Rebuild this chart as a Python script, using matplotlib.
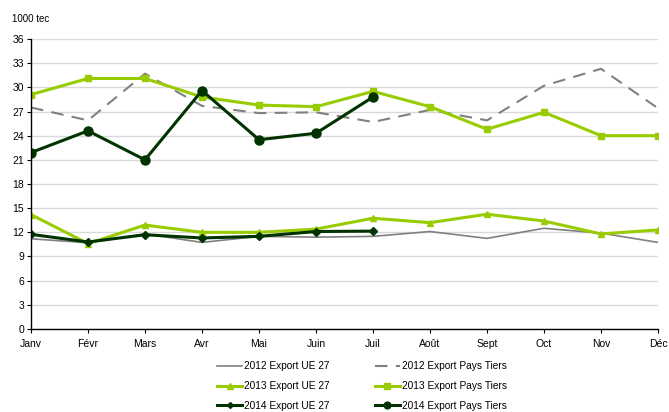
import matplotlib
matplotlib.use("Agg")
import matplotlib.pyplot as plt

plt.rcParams['font.family'] = ['Liberation Sans', 'DejaVu Sans']

months = ["Janv", "Févr", "Mars", "Avr", "Mai", "Juin", "Juil", "Août", "Sept", "Oct", "Nov", "Déc"]
yticks = [0, 3, 6, 9, 12, 15, 18, 21, 24, 27, 30, 33, 36]

ue_2012 = [11.2, 10.7, 11.8, 10.75, 11.5, 11.4, 11.5, 12.1, 11.25, 12.5, 11.9, 10.75]
pt_2012 = [27.5, 25.9, 31.7, 27.7, 26.8, 26.9, 25.7, 27.2, 25.9, 30.2, 32.3, 27.4]
ue_2013 = [14.2, 10.6, 12.9, 12.0, 12.0, 12.4, 13.75, 13.2, 14.25, 13.4, 11.8, 12.3]
pt_2013 = [29.1, 31.1, 31.1, 28.8, 27.8, 27.6, 29.5, 27.6, 24.8, 26.9, 24.0, 24.0]
ue_2014 = [11.75, 10.8, 11.7, 11.3, 11.5, 12.1, 12.15]
pt_2014 = [21.9, 24.6, 21.0, 29.6, 23.5, 24.3, 28.8]

gray = "#808080"
lgreen = "#99CC00"
dgreen = "#003300"

fig = plt.figure(figsize=(6.69, 4.12), dpi=100)
ax = fig.add_axes([0.0463, 0.2015, 0.9373, 0.7038])

x12 = list(range(12))
x7 = list(range(7))

h1, = ax.plot(x12, ue_2012, color=gray, lw=1.2, label="2012 Export UE 27")
h2, = ax.plot(x12, pt_2012, color=gray, lw=1.5, ls=(0, (6, 4)), label="2012 Export Pays Tiers")
h3, = ax.plot(x12, ue_2013, color=lgreen, lw=2.2, marker="^", ms=5, label="2013 Export UE 27")
h4, = ax.plot(x12, pt_2013, color=lgreen, lw=2.2, marker="s", ms=5, label="2013 Export Pays Tiers")
h5, = ax.plot(x7, ue_2014, color=dgreen, lw=2.2, marker="D", ms=4, label="2014 Export UE 27")
h6, = ax.plot(x7, pt_2014, color=dgreen, lw=2.2, marker="o", ms=6.5, label="2014 Export Pays Tiers")

ax.set_xlim(0, 11)
ax.set_ylim(0, 36)
ax.set_yticks(yticks)
ax.set_yticklabels([str(v) for v in yticks], fontsize=7.5)
ax.set_xticks(x12)
ax.set_xticklabels(months, fontsize=7.5)
ax.yaxis.grid(True, color="#d9d9d9", lw=1)
ax.set_axisbelow(True)
for s in ["top", "right"]:
    ax.spines[s].set_visible(False)
ax.spines["left"].set_color("black")
ax.spines["bottom"].set_color("black")
ax.spines["left"].set_linewidth(1)
ax.spines["bottom"].set_linewidth(1)
ax.tick_params(axis="y", length=3, width=0.8, pad=2)
ax.tick_params(axis="x", length=3, width=0.8, pad=4)

fig.text(0.018, 0.955, "1000 tec", fontsize=7, ha="left", va="center")

fig.legend(handles=[h1, h3, h5, h2, h4, h6], ncol=2, loc="lower center",
           bbox_to_anchor=(0.541, -0.019), frameon=False, fontsize=7.3,
           handlelength=2.5, handletextpad=0.2, columnspacing=4.4,
           labelspacing=0.95, markerscale=0.75)

fig.savefig("out.png", dpi=100)
